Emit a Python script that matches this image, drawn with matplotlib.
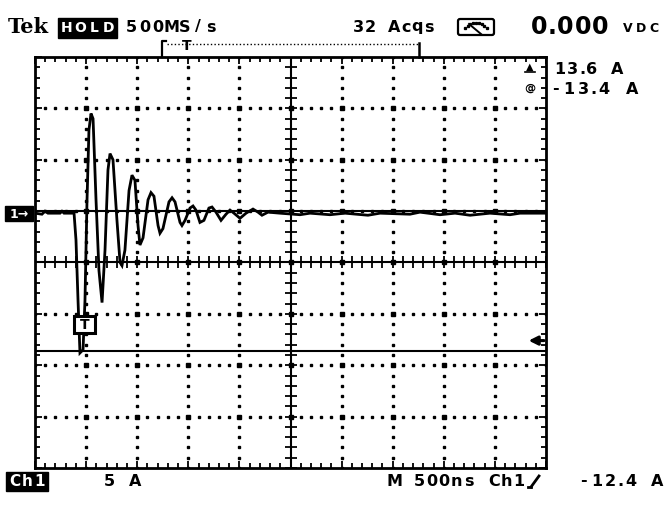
import numpy as np
import matplotlib
matplotlib.use("Agg")
import matplotlib.pyplot as plt
from matplotlib.patches import Rectangle, FancyBboxPatch

W, H = 672, 528

# scope settings
NS_PER_DIV = 500
A_PER_DIV = 5
N_XDIV, N_YDIV = 10, 8
GROUND_OFFSET_DIV = 0.96          # ch1 ground marker above screen centre
CURSOR_A = [0.2, -13.4]           # the two horizontal cursors (delta 13.6 A)
TRIGGER_A = -12.4

# captured Ch1 current trace (time in ns from left edge, current in A)
TRACE_T_NS = [0, 68, 98, 127, 245, 264, 284, 382, 401, 421, 440, 470, 489, 509,
              528, 548, 568, 597, 626, 656, 685, 714, 734, 763, 802, 832, 851,
              880, 920, 949, 978, 1008, 1027, 1057, 1106, 1135, 1164, 1204, 1223,
              1252, 1311, 1341, 1370, 1419, 1438, 1468, 1517, 1546, 1575, 1614,
              1653, 1702, 1732, 1771, 1820, 1869, 1908, 1947, 2006, 2065, 2133,
              2182, 2221, 2280, 2397, 2593, 2691, 2886, 3033, 3258, 3376, 3669,
              3767, 3963, 4110, 4257, 4452, 4648, 4746, 5000]
TRACE_I_A = [0, -0.1, 0.19, 0, 0, 0.19, 0, 0, -2.6, -8.5, -13.6, -13.3, -8.5, 1.3,
             8.1, 9.7, 9.2, 1.3, -5.6, -8.7, -3.6, 4.2, 5.8, 5.2, -0.7, -4.8, -5.1,
             -3.6, 2.2, 3.7, 3.2, -1.2, -3.1, -2.4, 1.3, 2.0, 1.65, -1.2, -1.95,
             -1.5, 1.1, 1.5, 1.1, -0.9, -1.2, -0.7, 0.5, 0.7, 0.3, -0.9,
             -0.7, 0.5, 0.6, 0.1, -0.7, -0.1, 0.3, 0, -0.5, 0, 0.4,
             0.1, -0.2, 0.1, 0, -0.15, 0, -0.15, 0, -0.2, 0, -0.1,
             0.1, -0.15, 0, -0.2, 0, -0.15, 0, 0]

centre_a = -GROUND_OFFSET_DIV * A_PER_DIV
t_max = N_XDIV * NS_PER_DIV
t_mid = t_max / 2
y_lo = centre_a - N_YDIV / 2 * A_PER_DIV
y_hi = centre_a + N_YDIV / 2 * A_PER_DIV

fig = plt.figure(figsize=(W / 100, H / 100), dpi=100)
fig.patch.set_facecolor("white")

# graticule area in pixels: x 35..546, y 57..468
ax = fig.add_axes([35 / W, 1 - 468 / H, (546 - 35) / W, (468 - 57) / H])
ax.set_xlim(0, t_max)
ax.set_ylim(y_lo, y_hi)
for sp in ax.spines.values():
    sp.set_linewidth(2)
x_major = np.arange(0, t_max + 1, NS_PER_DIV)
x_minor = np.arange(0, t_max + 1, NS_PER_DIV / 5)
y_major = centre_a + A_PER_DIV * np.arange(-4, 5)
y_minor = centre_a + np.arange(-20, 21)
ax.set_xticks(x_major)
ax.set_xticks(x_minor, minor=True)
ax.set_yticks(y_major)
ax.set_yticks(y_minor, minor=True)
ax.tick_params(which="both", direction="in", top=True, right=True,
               labelbottom=False, labelleft=False, width=1.3, color="black")
ax.tick_params(which="major", length=5)
ax.tick_params(which="minor", length=3.5)

# dotted division lines
for xv in x_major[1:-1]:
    if xv == t_mid:
        continue
    ax.plot([xv] * len(y_minor), y_minor, ls="none", marker="s", ms=1.5, color="black")
for yv in y_major[1:-1]:
    if np.isclose(yv, centre_a):
        continue
    ax.plot(x_minor, [yv] * len(x_minor), ls="none", marker="s", ms=1.5, color="black")
gx, gy = np.meshgrid(x_major[1:-1], y_major[1:-1])
ax.plot(gx.ravel(), gy.ravel(), ls="none", marker="s", ms=2.4, color="black")

# centre crosshair with ticks
ax.axhline(centre_a, color="black", lw=1.5)
ax.axvline(t_mid, color="black", lw=1.5)
ax.plot(x_minor, [centre_a] * len(x_minor), ls="none", marker="|", ms=8, mew=1.3, color="black")
ax.plot([t_mid] * len(y_minor), y_minor, ls="none", marker="_", ms=8, mew=1.3, color="black")

# cursors
for c in CURSOR_A:
    ax.axhline(c, color="black", lw=1.5)

# trace
ax.plot(TRACE_T_NS, TRACE_I_A, color="black", lw=2.0, solid_joinstyle="miter")

# trigger level arrow on right edge
ax.annotate("", xy=(t_max - 170, TRIGGER_A), xytext=(t_max - 20, TRIGGER_A),
            arrowprops=dict(arrowstyle="-|>", lw=2.2, color="black",
                            mutation_scale=13, shrinkA=0, shrinkB=0))

# overlay in screen pixels for the readouts
deco = fig.add_axes([0, 0, 1, 1])
deco.set_xlim(0, W)
deco.set_ylim(H, 0)
deco.axis("off")
deco.patch.set_alpha(0)

FONT = "DejaVu Sans"
NARROW = {".": 0.5}


def scope_text(x0, x1, y, s, size=11.5, color="black", weight="bold"):
    # fixed pitch readout font, spread between the measured left/right edges
    units = [NARROW.get(ch, 1.0) for ch in s]
    pitch = (x1 - x0) / sum(units)
    pos = x0
    for ch, u in zip(s, units):
        if ch != " ":
            deco.text(pos + pitch * u / 2, y, ch, ha="center", va="center",
                      fontsize=size, fontweight=weight, color=color, family=FONT)
        pos += pitch * u


def inv_box(x, y, w, h, s, size=10, pad=None):
    deco.add_patch(Rectangle((x, y), w, h, facecolor="black", edgecolor="black"))
    if pad is None:
        deco.text(x + w / 2, y + h / 2 + 0.5, s, ha="center", va="center",
                  fontsize=size, fontweight="bold", color="white", family=FONT)
    else:
        scope_text(x + pad, x + w - pad, y + h / 2 + 0.5, s, size=size, color="white")


# header
deco.text(8, 27, "Tek", ha="left", va="center", fontsize=15, fontweight="bold",
          family="DejaVu Serif")
inv_box(58, 18, 59, 20, "HOLD", size=10, pad=2)
scope_text(125, 218, 27, "500MS/s")
scope_text(353, 435, 27, "32 Acqs")
deco.add_patch(FancyBboxPatch((458, 19), 36, 16, boxstyle="round,pad=0,rounding_size=2",
                              facecolor="white", edgecolor="black", lw=1.6))
arc = np.linspace(np.pi * 0.2, np.pi * 0.8, 9)
deco.plot(476 - 13 * np.cos(arc), 36 - 13 * np.sin(arc), ls="none", marker="s",
          ms=1.4, color="black")
deco.plot([469, 481], [24, 34], color="black", lw=1.4)
scope_text(530, 609, 27, "0.000", size=17, weight="bold")
scope_text(621, 661, 28, "VDC", size=9)

# trigger position bar
deco.plot([162, 162, 166], [57, 41, 41], color="black", lw=1.6)
deco.plot([167, 418], [44, 44], color="black", lw=1.0, ls=(0, (1, 1.6)))
deco.text(187, 46, "T", ha="center", va="center", fontsize=10, fontweight="bold", family=FONT)
deco.plot([419, 419], [43, 57], color="black", lw=1.8)

# cursor readouts
deco.text(530, 67, "▲", ha="center", va="center", fontsize=7, family=FONT)
deco.plot([525, 535], [72, 72], color="black", lw=1.2)
deco.text(530, 88, "@", ha="center", va="center", fontsize=8, fontweight="bold", family=FONT)
scope_text(553, 624, 70, "13.6 A")
scope_text(548, 639, 89, "-13.4 A")

# channel ground marker and trigger marker on trace
inv_box(5, 206, 28, 15, "1→", size=9)
deco.add_patch(Rectangle((74, 316), 21, 17, facecolor="white", edgecolor="black", lw=2.2))
deco.text(84.5, 325, "T", ha="center", va="center", fontsize=10, fontweight="bold", family=FONT)

# footer
inv_box(6, 472, 42, 19, "Ch1", size=11, pad=2)
scope_text(103, 141, 481, "5 A")
scope_text(388, 525, 481, "M 500ns Ch1")
deco.plot([531, 539], [487, 476], color="black", lw=2)
deco.plot([528, 531], [487, 487], color="black", lw=2)
scope_text(577, 664, 481, "-12.4 A")

fig.savefig("out.png", dpi=100)
